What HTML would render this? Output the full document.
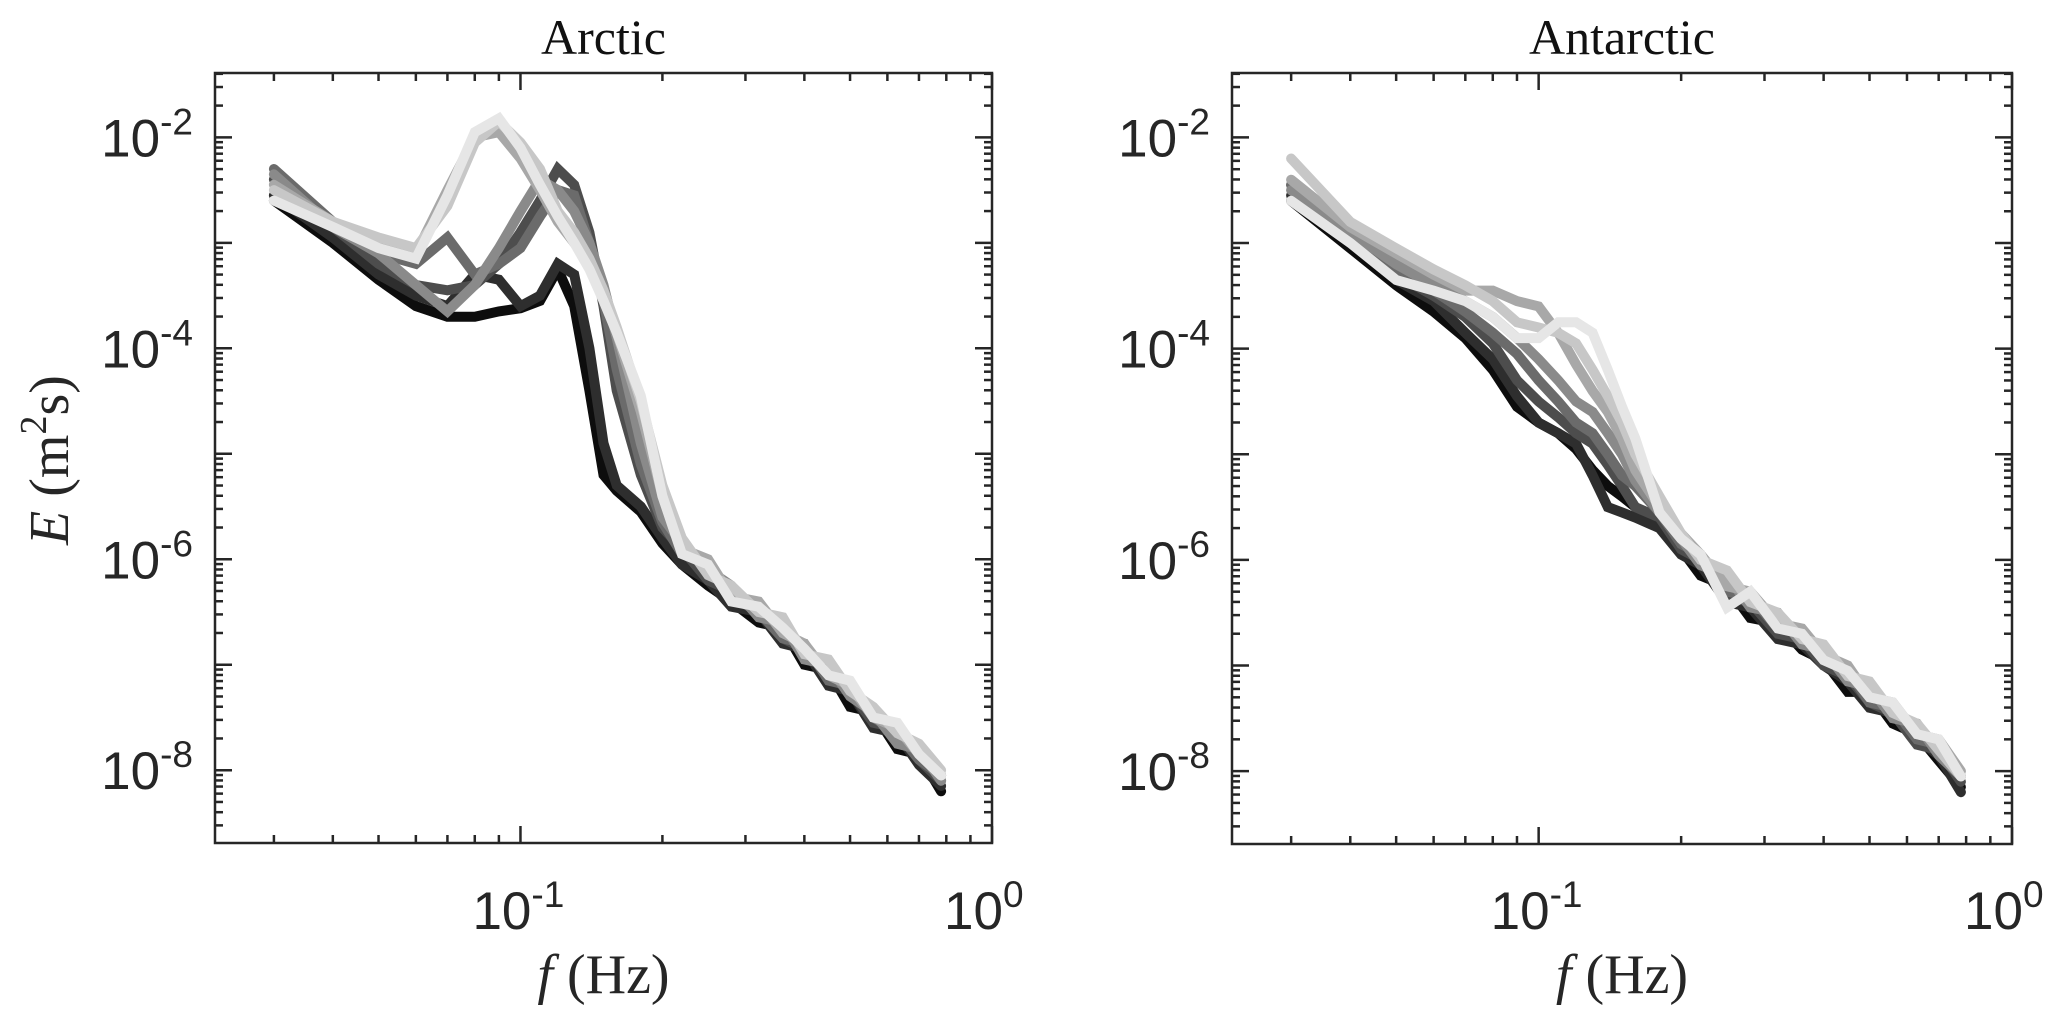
<!DOCTYPE html>
<html><head><meta charset="utf-8">
<style>
html,body{margin:0;padding:0;background:#fff;}
svg{display:block;}
</style></head>
<body>
<svg id="fig" width="2067" height="1026" viewBox="0 0 2067 1026" xmlns="http://www.w3.org/2000/svg"></svg>
<script>
// shared frequency grid (Hz)
const freqs = [0.03,0.04,0.05,0.06,0.07,0.08,0.09,0.10,0.11,0.12,0.13,0.14,0.15,0.16,0.18,0.20,0.22,0.25,0.28,0.32,0.36,0.40,0.45,0.50,0.56,0.63,0.70,0.78];
const seriesColors = ['#0d0d0d','#2e2e2e','#4d4d4d','#6b6b6b','#8a8a8a','#a8a8a8','#c7c7c7','#e6e6e6'];
// Arctic log10(E)
const arctic0 = [-2.6,-3.0,-3.35,-3.6,-3.7,-3.7,-3.65,-3.62,-3.55,-3.25,-3.6,-4.4,-5.2,-5.35,-5.55,-5.85,-6.05,-6.25,-6.4,-6.6,-6.65,-7.0,-7.05,-7.4,-7.45,-7.8,-7.85,-8.2];
const arctic1 = [-2.55,-2.95,-3.3,-3.5,-3.6,-3.3,-3.35,-3.6,-3.5,-3.2,-3.3,-4.0,-4.9,-5.3,-5.5,-5.8,-6.05,-6.2,-6.45,-6.5,-6.8,-6.85,-7.2,-7.25,-7.6,-7.65,-7.95,-8.15];
const arctic2 = [-2.4,-2.85,-3.2,-3.4,-3.45,-3.4,-3.2,-2.9,-2.6,-2.3,-2.45,-2.9,-3.6,-4.4,-5.2,-5.7,-5.9,-6.2,-6.3,-6.45,-6.75,-6.85,-7.1,-7.25,-7.55,-7.6,-7.9,-8.1];
const arctic3 = [-2.3,-2.8,-3.1,-3.2,-2.95,-3.3,-3.2,-3.05,-2.75,-2.5,-2.55,-3.0,-3.55,-4.2,-5.1,-5.65,-5.95,-6.05,-6.35,-6.5,-6.75,-6.8,-7.15,-7.2,-7.5,-7.65,-7.9,-8.05];
const arctic4 = [-2.35,-2.85,-3.1,-3.4,-3.65,-3.4,-3.05,-2.7,-2.4,-2.5,-2.7,-3.0,-3.4,-3.9,-4.9,-5.6,-5.85,-6.1,-6.25,-6.55,-6.6,-6.95,-7.0,-7.3,-7.45,-7.75,-7.8,-8.1];
const arctic5 = [-2.45,-2.8,-3.0,-3.1,-2.5,-2.0,-1.95,-2.2,-2.5,-2.8,-3.0,-3.2,-3.5,-3.85,-4.6,-5.4,-5.9,-6.0,-6.35,-6.4,-6.7,-6.8,-7.1,-7.2,-7.5,-7.6,-7.85,-8.05];
const arctic6 = [-2.5,-2.8,-2.95,-3.05,-2.65,-2.05,-1.85,-2.05,-2.3,-2.7,-2.9,-3.15,-3.45,-3.8,-4.5,-5.3,-5.8,-6.15,-6.25,-6.5,-6.55,-6.9,-6.95,-7.25,-7.4,-7.65,-7.75,-8.0];
const arctic7 = [-2.6,-2.85,-3.05,-3.15,-2.55,-1.95,-1.82,-2.1,-2.45,-2.75,-3.0,-3.25,-3.55,-3.85,-4.45,-5.4,-5.95,-6.05,-6.4,-6.45,-6.65,-6.85,-7.1,-7.15,-7.5,-7.55,-7.85,-8.05];
// Antarctic log10(E)
const antarctic0 = [-2.6,-3.05,-3.4,-3.65,-3.9,-4.2,-4.55,-4.7,-4.8,-4.95,-5.15,-5.3,-5.4,-5.5,-5.65,-5.9,-6.15,-6.25,-6.55,-6.6,-6.85,-6.95,-7.25,-7.25,-7.55,-7.65,-7.9,-8.15];
const antarctic1 = [-2.55,-3.0,-3.35,-3.55,-3.85,-4.1,-4.45,-4.7,-4.8,-4.9,-5.2,-5.5,-5.55,-5.6,-5.7,-5.95,-6.05,-6.4,-6.45,-6.75,-6.8,-7.0,-7.15,-7.4,-7.45,-7.7,-7.85,-8.2];
const antarctic2 = [-2.45,-2.95,-3.3,-3.5,-3.7,-3.95,-4.3,-4.5,-4.65,-4.8,-4.9,-5.1,-5.3,-5.5,-5.6,-5.9,-6.0,-6.35,-6.4,-6.7,-6.75,-7.0,-7.1,-7.35,-7.45,-7.75,-7.8,-8.1];
const antarctic3 = [-2.45,-2.9,-3.25,-3.45,-3.65,-3.85,-4.05,-4.3,-4.5,-4.7,-4.8,-5.0,-5.2,-5.3,-5.55,-5.85,-5.95,-6.3,-6.35,-6.65,-6.7,-6.95,-7.05,-7.35,-7.4,-7.7,-7.75,-8.05];
const antarctic4 = [-2.5,-2.9,-3.2,-3.4,-3.55,-3.7,-3.9,-4.1,-4.3,-4.5,-4.6,-4.8,-5.0,-5.25,-5.55,-5.8,-6.05,-6.15,-6.45,-6.5,-6.8,-6.85,-7.15,-7.2,-7.5,-7.55,-7.85,-8.05];
const antarctic5 = [-2.4,-2.85,-3.1,-3.3,-3.45,-3.45,-3.55,-3.6,-3.85,-4.15,-4.4,-4.6,-4.85,-5.15,-5.5,-5.75,-5.95,-6.25,-6.3,-6.6,-6.65,-6.9,-7.0,-7.3,-7.35,-7.65,-7.7,-8.0];
const antarctic6 = [-2.2,-2.8,-3.05,-3.25,-3.4,-3.55,-3.75,-3.8,-3.85,-3.95,-4.2,-4.45,-4.7,-5.0,-5.4,-5.75,-6.0,-6.1,-6.4,-6.5,-6.75,-6.8,-7.1,-7.15,-7.45,-7.55,-7.8,-8.05];
const antarctic7 = [-2.6,-3.0,-3.35,-3.45,-3.55,-3.7,-3.9,-3.9,-3.75,-3.75,-3.85,-4.2,-4.55,-4.85,-5.55,-5.8,-5.95,-6.45,-6.3,-6.65,-6.7,-6.95,-7.05,-7.3,-7.35,-7.65,-7.7,-8.05];
const yTickExps = [-2,-4,-6,-8];
const xTickExps = [-1,0];

const arcticSeries = [arctic0,arctic1,arctic2,arctic3,arctic4,arctic5,arctic6,arctic7];
const antarcticSeries = [antarctic0,antarctic1,antarctic2,antarctic3,antarctic4,antarctic5,antarctic6,antarctic7];

const NS='http://www.w3.org/2000/svg';
const svg=document.getElementById('fig');
const AX='#262626';
const XMIN=Math.log10(0.0225), XMAX=0, YMIN=-8.69, YMAX=-1.39;

function mk(tag,attrs,parent){const e=document.createElementNS(NS,tag);for(const k in attrs)e.setAttribute(k,attrs[k]);(parent||svg).appendChild(e);return e;}

function panel(left,right,top,bottom,title,series,key,showYLabel){
  const g=mk('g',{});
  
  
  const xs=v=>left+(Math.log10(v)-XMIN)/(XMAX-XMIN)*(right-left);
  const ys=l=>bottom-(l-YMIN)/(YMAX-YMIN)*(bottom-top);
  series.forEach((vals,i)=>{
    const pts=freqs.map((f,j)=>xs(f).toFixed(1)+','+ys(vals[j]).toFixed(1)).join(' ');
    const pl=mk('polyline',{points:pts,fill:'none',stroke:seriesColors[i],'stroke-width':10,'stroke-linejoin':'miter','stroke-linecap':'round'},g);
    
    
  });
  const tg=mk('g',{stroke:AX,'stroke-width':2.5},g);
  
  
  for(let d=-9;d<=0;d++){for(let m=1;m<=9;m++){
    const l=d+Math.log10(m); if(l<YMIN||l>YMAX) continue;
    const y=ys(l), len=m===1?17:8;
    mk('line',{x1:left,y1:y,x2:left+len,y2:y},tg);
    mk('line',{x1:right,y1:y,x2:right-len,y2:y},tg);
  }}
  for(let d=-2;d<=0;d++){for(let m=1;m<=9;m++){
    const l=d+Math.log10(m); if(l<XMIN||l>XMAX+0.001) continue;
    const x=xs(Math.pow(10,l)), len=m===1?17:8;
    mk('line',{x1:x,y1:bottom,x2:x,y2:bottom-len},tg);
    mk('line',{x1:x,y1:top,x2:x,y2:top+len},tg);
  }}
  const box=mk('rect',{x:left,y:top,width:right-left,height:bottom-top,fill:'none',stroke:AX,'stroke-width':2.5},g);
  
  
  yTickExps.forEach(e=>{
    const t=mk('text',{x:left-22,y:ys(e)+19,'text-anchor':'end','font-family':'Liberation Sans, sans-serif','font-size':53,fill:AX},g);
    
    
    t.innerHTML='10<tspan dy="-22" font-size="37">'+e+'</tspan>';
  });
  xTickExps.forEach(e=>{
    const t=mk('text',{x:xs(Math.pow(10,e))-48,y:929,'font-family':'Liberation Sans, sans-serif','font-size':53,fill:AX},g);
    
    
    t.innerHTML='10<tspan dy="-22" font-size="37">'+e+'</tspan>';
  });
  const cx=(left+right)/2;
  const tt=mk('text',{x:cx,y:54,'text-anchor':'middle','font-family':'Liberation Serif, serif','font-size':50,fill:'#111'},g);
  
  
  tt.textContent=title;
  const xl=mk('text',{x:cx,y:993,'text-anchor':'middle','font-family':'Liberation Serif, serif','font-size':56,fill:AX},g);
  
  
  xl.innerHTML='<tspan font-style="italic">f</tspan>  (Hz)';
  xl.setAttribute('xml:space','preserve');
  if(showYLabel){
    const yl=mk('text',{x:0,y:0,'text-anchor':'middle','font-family':'Liberation Serif, serif','font-size':56,fill:AX,transform:'translate(68,460) rotate(-90)'},g);
    
    
    yl.setAttribute('xml:space','preserve');
    yl.innerHTML='<tspan font-style="italic">E</tspan>  (m<tspan dy="-22" font-size="38">2</tspan><tspan dy="22">s)</tspan>';
  }
}
panel(215,992,73,843,'Arctic',arcticSeries,'arctic',true);
panel(1232,2012,73,844,'Antarctic',antarcticSeries,'antarctic',false);
</script>
</body></html>
